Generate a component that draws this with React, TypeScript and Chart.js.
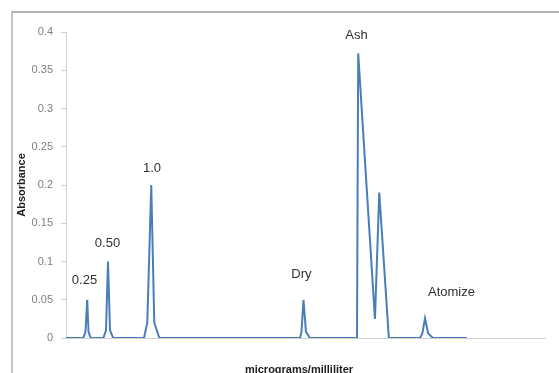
import React, { useEffect, useRef } from "react";
import { Chart, registerables } from "chart.js";

Chart.register(...registerables);

// x positions (arbitrary time units along the furnace program) and absorbance readings
const xPositions = [
  0, 3.6, 4.07, 4.43, 4.7, 5.15,
  7.8, 8.35, 8.77, 9.19, 9.85,
  16.28, 16.97, 17.8, 18.43, 19.48,
  48.85, 49.16, 49.58, 50.1, 50.94,
  60.75, 61.0, 64.5, 65.4, 67.4,
  73.9, 74.4, 74.95, 75.6, 76.6,
  83.7,
];
const absorbance = [
  0, 0, 0.008, 0.05, 0.008, 0,
  0, 0.01, 0.1, 0.01, 0,
  0, 0.02, 0.2, 0.02, 0,
  0, 0.008, 0.05, 0.008, 0,
  0, 0.372, 0.025, 0.19, 0,
  0, 0.006, 0.026, 0.006, 0,
  0,
];

const yTickValues = [0, 0.05, 0.1, 0.15, 0.2, 0.25, 0.3, 0.35, 0.4];
const yTickLabels = ["0", "0.05", "0.1", "0.15", "0.2", "0.25", "0.3", "0.35", "0.4"];

const peakLabels = ["0.25", "0.50", "1.0", "Dry", "Ash", "Atomize"];
const peakLabelX = [3.86, 8.66, 17.95, 49.16, 60.65, 80.48];
const peakLabelY = [0.0758, 0.124, 0.222, 0.0837, 0.395, 0.0592];

const yTitle = "Absorbance";
const xTitle = "micrograms/milliliter";

const FONT = "'Liberation Sans', Arial, sans-serif";

const labelPlugin = {
  id: "peakLabels",
  afterDatasetsDraw(chart: any) {
    const { ctx, scales, chartArea } = chart;
    const xs = scales.x;
    const ys = scales.y;
    ctx.save();
    ctx.fillStyle = "#303030";
    ctx.font = `13px ${FONT}`;
    ctx.textAlign = "center";
    ctx.textBaseline = "middle";
    peakLabels.forEach((t, i) => {
      ctx.fillText(t, xs.getPixelForValue(peakLabelX[i]), ys.getPixelForValue(peakLabelY[i]));
    });
    // axis titles
    ctx.fillStyle = "#202020";
    ctx.font = `bold 11px ${FONT}`;
    ctx.save();
    ctx.translate(22, (chartArea.top + chartArea.bottom) / 2);
    ctx.rotate(-Math.PI / 2);
    ctx.textBaseline = "middle";
    ctx.fillText(yTitle, 0, 0);
    ctx.restore();
    ctx.textBaseline = "alphabetic";
    ctx.fillText(xTitle, 299, 373);
    ctx.restore();
  },
};

export default function App() {
  const ref = useRef<HTMLCanvasElement | null>(null);
  useEffect(() => {
    if (!ref.current) return;
    const chart = new Chart(ref.current, {
      type: "line",
      data: {
        datasets: [
          {
            data: xPositions.map((x, i) => ({ x, y: absorbance[i] })),
            borderColor: "#4a7ebb",
            borderWidth: 2,
            pointRadius: 0,
            tension: 0,
            fill: false,
          },
        ],
      },
      options: {
        animation: false,
        responsive: false,
        maintainAspectRatio: false,
        layout: { padding: { left: 0, right: 14, top: 32, bottom: 0 } },
        plugins: { legend: { display: false }, tooltip: { enabled: false } },
        scales: {
          x: {
            type: "linear",
            min: 0,
            max: 100,
            grid: { display: false },
            ticks: { display: false },
            border: { display: true, color: "#d0d0d0", width: 1 },
            afterFit: (s: any) => {
              s.height = 35;
            },
          },
          y: {
            min: 0,
            max: 0.4,
            afterBuildTicks: (s: any) => {
              s.ticks = yTickValues.map((v) => ({ value: v }));
            },
            ticks: {
              color: "#808080",
              font: { family: FONT, size: 11 },
              padding: 8,
              callback: (v: any) => {
                const i = yTickValues.findIndex((t) => Math.abs(t - Number(v)) < 1e-9);
                return i >= 0 ? yTickLabels[i] : "";
              },
            },
            grid: {
              display: true,
              drawOnChartArea: false,
              drawTicks: true,
              tickLength: 5,
              color: "#d0d0d0",
            },
            border: { display: true, color: "#d0d0d0", width: 1 },
            afterFit: (s: any) => {
              s.width = 66;
            },
          },
        },
      },
      plugins: [labelPlugin],
    });
    return () => chart.destroy();
  }, []);
  return (
    <div
      style={{
        position: "fixed",
        left: 0,
        top: 0,
        width: 559,
        height: 373,
        overflow: "hidden",
        background: "#fff",
      }}
    >
      <canvas ref={ref} width={559} height={373} style={{ width: 559, height: 373, display: "block" }} />
      <div
        style={{
          position: "absolute",
          left: 11,
          top: 11,
          width: 546,
          height: 400,
          borderTop: "2px solid #b4b4b4",
          borderLeft: "2px solid #c4c4c4",
          borderRight: "1px solid #dcdcdc",
          pointerEvents: "none",
        }}
      />
    </div>
  );
}
